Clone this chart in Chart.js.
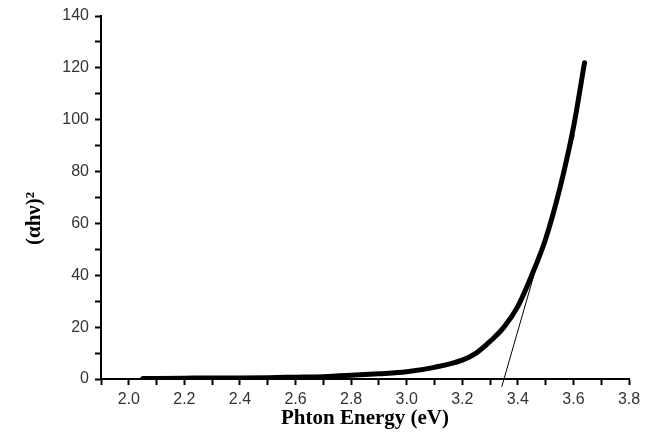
<!DOCTYPE html>
<html>
<head>
<meta charset="utf-8">
<script src="https://cdn.jsdelivr.net/npm/chart.js@4"></script>
<style>
  html, body { margin: 0; padding: 0; background: #fff; }
  #wrap { width: 654px; height: 432px; }
</style>
</head>
<body>
<div id="wrap"><canvas id="chart"></canvas></div>
<script>
const energy = [2.05, 2.2, 2.3, 2.4, 2.5, 2.6, 2.7, 2.8, 2.9, 3.0, 3.1, 3.2, 3.25, 3.3, 3.35, 3.4, 3.45, 3.5, 3.55, 3.6, 3.64];
const absorption = [0.2, 0.3, 0.4, 0.4, 0.5, 0.7, 0.9, 1.4, 2.0, 2.8, 4.5, 7.3, 10, 14.5, 20, 28, 40, 54, 73, 97, 122];
const tangentX = [3.342, 3.603];
const tangentY = [-3, 94];

function toPoints(xs, ys) {
  return xs.map((x, i) => ({ x: x, y: ys[i] }));
}

const tickFont = { family: 'Liberation Sans, Arial, sans-serif', size: 16 };
const titleFont = { family: 'Liberation Serif, Times New Roman, serif', size: 21, weight: 'bold' };

new Chart(document.getElementById('chart'), {
  type: 'line',
  data: {
    datasets: [
      {
        label: 'data',
        data: toPoints(energy, absorption),
        borderColor: '#000',
        borderWidth: 5,
        pointRadius: 0,
        cubicInterpolationMode: 'monotone',
        borderCapStyle: 'round',
      },
      {
        label: 'tangent',
        data: toPoints(tangentX, tangentY),
        borderColor: '#000',
        borderWidth: 1,
        pointRadius: 0,
        clip: false,
      },
    ],
  },
  options: {
    responsive: true,
    maintainAspectRatio: false,
    animation: false,
    layout: { padding: { left: 22, top: 16, right: 25, bottom: 0 } },
    plugins: {
      legend: { display: false },
      tooltip: { enabled: false },
    },
    scales: {
      x: {
        type: 'linear',
        min: 1.9,
        max: 3.8,
        border: { display: true, color: '#000', width: 2 },
        grid: { drawOnChartArea: false, drawTicks: true, tickLength: 6, tickColor: '#000', tickWidth: 2 },
        ticks: {
          stepSize: 0.1,
          color: '#333',
          font: tickFont,
          padding: 5,
          maxRotation: 0,
          autoSkip: false,
          callback: function (value) {
            const v = Math.round(value * 10);
            return v % 2 === 0 ? (v / 10).toFixed(1) : '';
          },
        },
        title: { display: true, text: 'Phton Energy (eV)', color: '#000', font: titleFont, padding: { top: 2, bottom: 1 } },
        afterFit: function (scale) { scale.height = 53; },
      },
      y: {
        min: 0,
        max: 140,
        border: { display: true, color: '#000', width: 2 },
        grid: { drawOnChartArea: false, drawTicks: true, tickLength: 6, tickColor: '#000', tickWidth: 2 },
        ticks: {
          stepSize: 10,
          color: '#333',
          font: tickFont,
          padding: 6,
          autoSkip: false,
          callback: function (value) {
            return value % 20 === 0 ? String(value) : '';
          },
        },
        title: {
          display: true,
          text: '(αhν)²\u00a0\u00a0\u00a0\u00a0\u00a0\u00a0\u00a0\u00a0',
          color: '#000',
          font: titleFont,
          padding: { top: 0, bottom: 0 },
        },
        afterFit: function (scale) { scale.width = 79; },
      },
    },
  },
});
</script>
</body>
</html>
